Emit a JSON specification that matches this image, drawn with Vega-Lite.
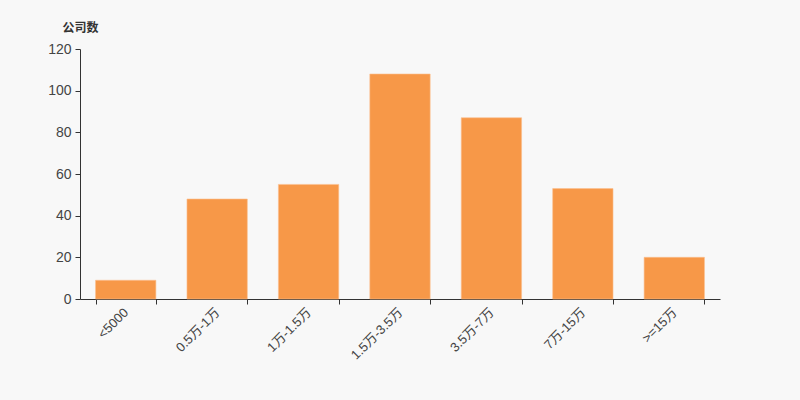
{
  "$schema": "https://vega.github.io/schema/vega-lite/v6.json",
  "width": 640,
  "height": 250,
  "autosize": {"type": "none"},
  "padding": {"left": 80, "top": 49, "right": 80, "bottom": 101},
  "background": "#f8f8f8",
  "config": {"view": {"stroke": null}, "font": "Liberation Sans, Noto Sans CJK SC"},
  "data": {"values": [
    {"range": "<5000", "count": 9},
    {"range": "0.5万-1万", "count": 48},
    {"range": "1万-1.5万", "count": 55},
    {"range": "1.5万-3.5万", "count": 108},
    {"range": "3.5万-7万", "count": 87},
    {"range": "7万-15万", "count": 53},
    {"range": ">=15万", "count": 20}
  ]},
  "mark": {"type": "bar", "color": "#f79848", "stroke": "#fbbf8f", "strokeWidth": 0.6},
  "encoding": {
    "x": {
      "field": "range", "type": "nominal", "sort": null,
      "scale": {"paddingInner": 0.34, "paddingOuter": 0.17},
      "axis": {
        "title": null, "labelAngle": -45, "labelAlign": "right", "labelBaseline": "middle",
        "labelFontSize": 13, "labelColor": "#444", "labelPadding": 6,
        "tickBand": "extent", "tickSize": 5, "tickColor": "#333", "domainColor": "#333",
        "labelFont": "Liberation Sans, Noto Sans CJK SC"
      }
    },
    "y": {
      "field": "count", "type": "quantitative",
      "scale": {"domain": [0, 120]},
      "axis": {
        "values": [0, 20, 40, 60, 80, 100, 120], "grid": false,
        "title": "公司数", "titleAngle": 0, "titleX": 0, "titleY": -15, "titleAlign": "center",
        "titleFontSize": 12, "titleFontWeight": "bold", "titleColor": "#333", "titleFont": "Noto Sans CJK SC",
        "labelFontSize": 14, "labelColor": "#444", "labelPadding": 4,
        "labelFont": "Liberation Sans",
        "tickSize": 5, "tickColor": "#333", "domainColor": "#333"
      }
    }
  }
}
